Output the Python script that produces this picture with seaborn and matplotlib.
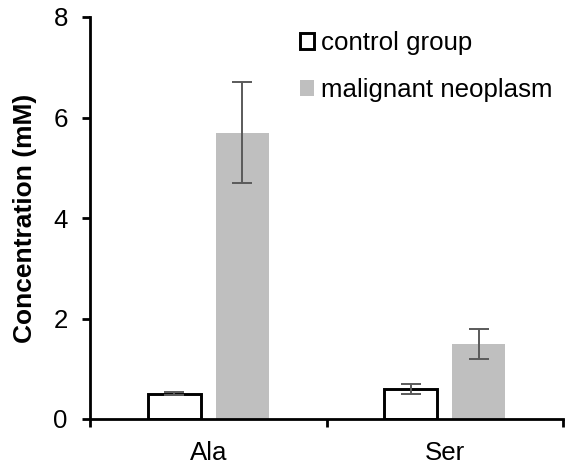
import matplotlib
matplotlib.use("Agg")
import matplotlib.pyplot as plt
import seaborn as sns
import pandas as pd
import numpy as np

categories = ["Ala", "Ser"]
groups = ["control group", "malignant neoplasm"]
control_values = [0.5, 0.6]
control_errors = [0.03, 0.1]
malignant_values = [5.7, 1.5]
malignant_errors = [1.0, 0.3]
y_ticks = [0, 2, 4, 6, 8]

df = pd.DataFrame({
    "category": categories * 2,
    "group": [groups[0]] * 2 + [groups[1]] * 2,
    "value": control_values + malignant_values,
    "err": control_errors + malignant_errors,
})

sns.set_style("white")
plt.rcParams["font.family"] = ["Liberation Sans", "DejaVu Sans"]
plt.rcParams["text.color"] = "black"
plt.rcParams["axes.labelcolor"] = "black"
plt.rcParams["xtick.color"] = "black"
plt.rcParams["ytick.color"] = "black"

FS = 18.6

fig = plt.figure(figsize=(5.66, 4.70), dpi=100)
ax = fig.add_axes([90 / 566, 1 - 419 / 470, (563 - 90) / 566, (419 - 17) / 470])

sns.barplot(data=df, x="category", y="value", hue="group", hue_order=groups,
            order=categories, palette=["white", "#bfbfbf"], errorbar=None,
            width=0.572, gap=0.217, ax=ax, legend=True)

containers = ax.containers
for i, (cont, errs) in enumerate(zip(containers, [control_errors, malignant_errors])):
    for bar, e in zip(cont, errs):
        if i == 0:
            bar.set_edgecolor("black")
            bar.set_linewidth(2.1)
        else:
            bar.set_edgecolor("none")
        cx = bar.get_x() + bar.get_width() / 2
        ax.errorbar(cx, bar.get_height(), yerr=e, fmt="none", ecolor="#5a5a5a",
                    elinewidth=1.4, capsize=7, capthick=1.4, zorder=5)

ax.set_xlim(-0.5, 1.5)
ax.set_ylim(0, 8)
ax.set_yticks(y_ticks)
ax.set_xticks([-0.5, 0.5, 1.5], minor=False)
ax.set_xticklabels([])
ax.set_xticks([0, 1], minor=True)
ax.set_xticklabels(categories, minor=True)
ax.tick_params(axis="x", which="major", direction="out", length=6, width=2.0, color="black")
ax.tick_params(axis="x", which="minor", length=0, pad=16, labelsize=FS, labelcolor="black")
ax.tick_params(axis="y", direction="out", length=6, width=2.0, color="black", pad=10,
               labelsize=FS, labelcolor="black")
ax.tick_params(axis="both", bottom=True, left=True)

for s in ["top", "right"]:
    ax.spines[s].set_visible(False)
for s in ["left", "bottom"]:
    ax.spines[s].set_color("black")
    ax.spines[s].set_linewidth(2.0)

ax.set_xlabel("")
ax.set_ylabel("Concentration (mM)", fontsize=19, fontweight="bold", labelpad=12, color="black")

handles, labels = ax.get_legend_handles_labels()
leg = ax.legend(handles, labels, loc="upper left", bbox_to_anchor=(300 / 566, 1 - 31 / 470),
                bbox_transform=fig.transFigure, frameon=False, fontsize=FS,
                handlelength=0.55, handleheight=0.55, handletextpad=0.27,
                labelspacing=0.9, borderpad=0, borderaxespad=0, title=None)
leg.legend_handles[0].set_edgecolor("black")
leg.legend_handles[0].set_linewidth(2.1)
leg.legend_handles[1].set_edgecolor("none")
for t in leg.get_texts():
    t.set_color("black")

fig.savefig("out.png", dpi=100)
